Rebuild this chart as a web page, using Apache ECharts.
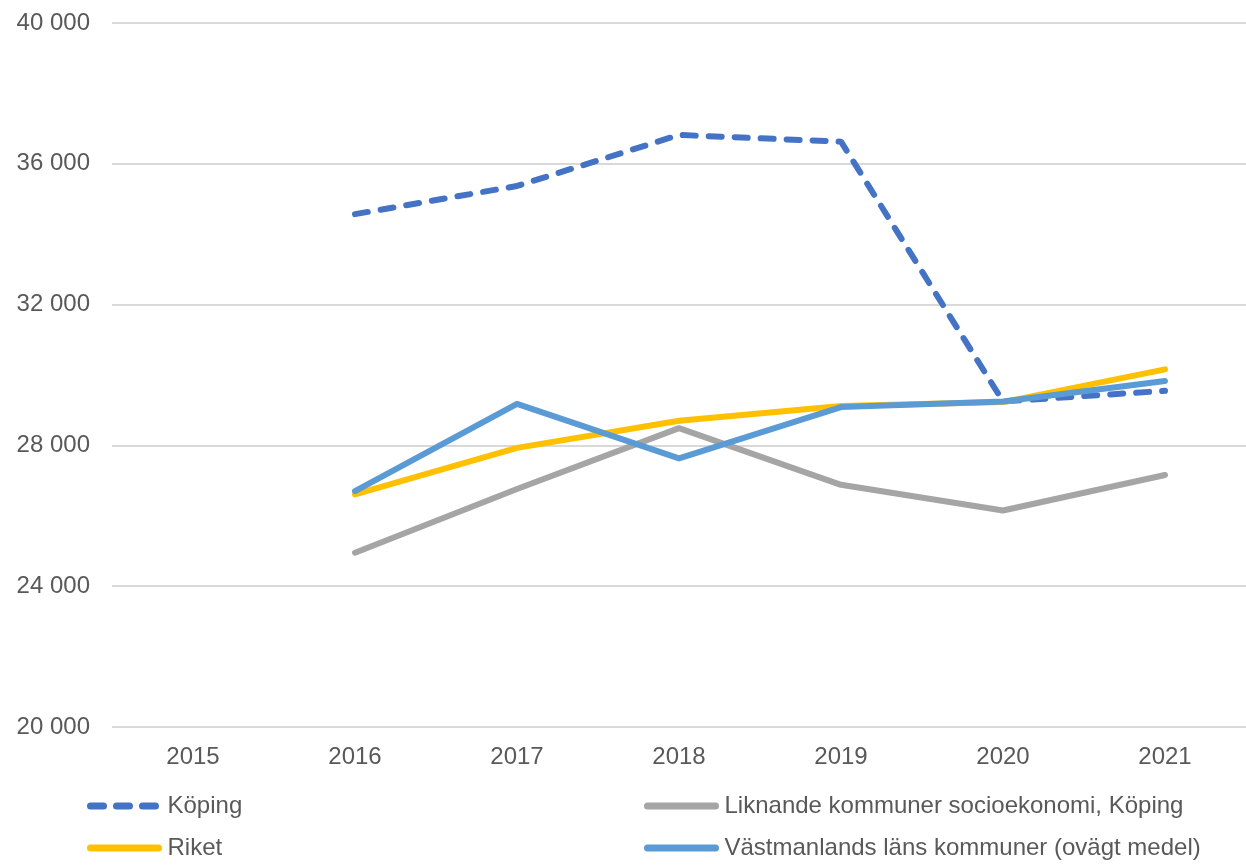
<!DOCTYPE html>
<html>
<head>
<meta charset="utf-8">
<script src="https://cdn.jsdelivr.net/npm/echarts@6/dist/echarts.min.js"></script>
<style>html,body{margin:0;padding:0;background:#fff}#c{width:1246px;height:865px}</style>
</head>
<body>
<div id="c"></div>
<script>
const years = ['2015','2016','2017','2018','2019','2020','2021'];
const koping = [null, 34570, 35370, 36820, 36630, 29250, 29550];
const liknande = [null, 24950, 26760, 28490, 26880, 26150, 27160];
const riket = [null, 26610, 27930, 28700, 29120, 29230, 30160];
const vastmanland = [null, 26700, 29180, 27630, 29090, 29250, 29830];
const seriesNames = ['Köping','Liknande kommuner socioekonomi, Köping','Riket','Västmanlands läns kommuner (ovägt medel)'];

const chart = echarts.init(document.getElementById('c'), null, {renderer:'canvas'});
const fmt = v => String(v).replace(/\B(?=(\d{3})+(?!\d))/g, ' ');
const font = 'Liberation Sans, Arial, sans-serif';
const mk = (name, data, color, dashed) => ({
  name, type:'line', data, symbol:'none', smooth:false, connectNulls:false,
  lineStyle:{color, width:6, type: dashed ? [13,13] : 'solid', cap:'round', join:'round'},
  itemStyle:{color}
});
const legendCommon = {orient:'vertical', top:789, itemWidth:68, itemHeight:7, itemGap:18,
  itemStyle:{opacity:0},
  lineStyle:{width:7, cap:'round'},
  textStyle:{color:'#595959', fontSize:24, fontFamily:font, padding:[0,0,0,4]}};
chart.setOption({
  animation:false,
  backgroundColor:'#fff',
  grid:{left:112, right:-4, top:23, bottom:138, containLabel:false},
  xAxis:{type:'category', data:years, boundaryGap:true,
    axisLine:{show:false}, axisTick:{show:false},
    axisLabel:{color:'#595959', fontSize:24, fontFamily:font, margin:18}},
  yAxis:{type:'value', min:20000, max:40000, interval:4000,
    axisLine:{show:false}, axisTick:{show:false},
    splitLine:{lineStyle:{color:'#d9d9d9', width:2}},
    axisLabel:{color:'#595959', fontSize:24, fontFamily:font, margin:22, formatter:fmt}},
  legend:[
    Object.assign({data:[seriesNames[0], seriesNames[2]], left:82}, legendCommon),
    Object.assign({data:[seriesNames[1], seriesNames[3]], left:639}, legendCommon)
  ],
  series:[
    mk(seriesNames[0], koping, '#4472C4', true),
    mk(seriesNames[1], liknande, '#A5A5A5', false),
    mk(seriesNames[2], riket, '#FFC000', false),
    mk(seriesNames[3], vastmanland, '#5B9BD5', false)
  ]
});
</script>
</body>
</html>
